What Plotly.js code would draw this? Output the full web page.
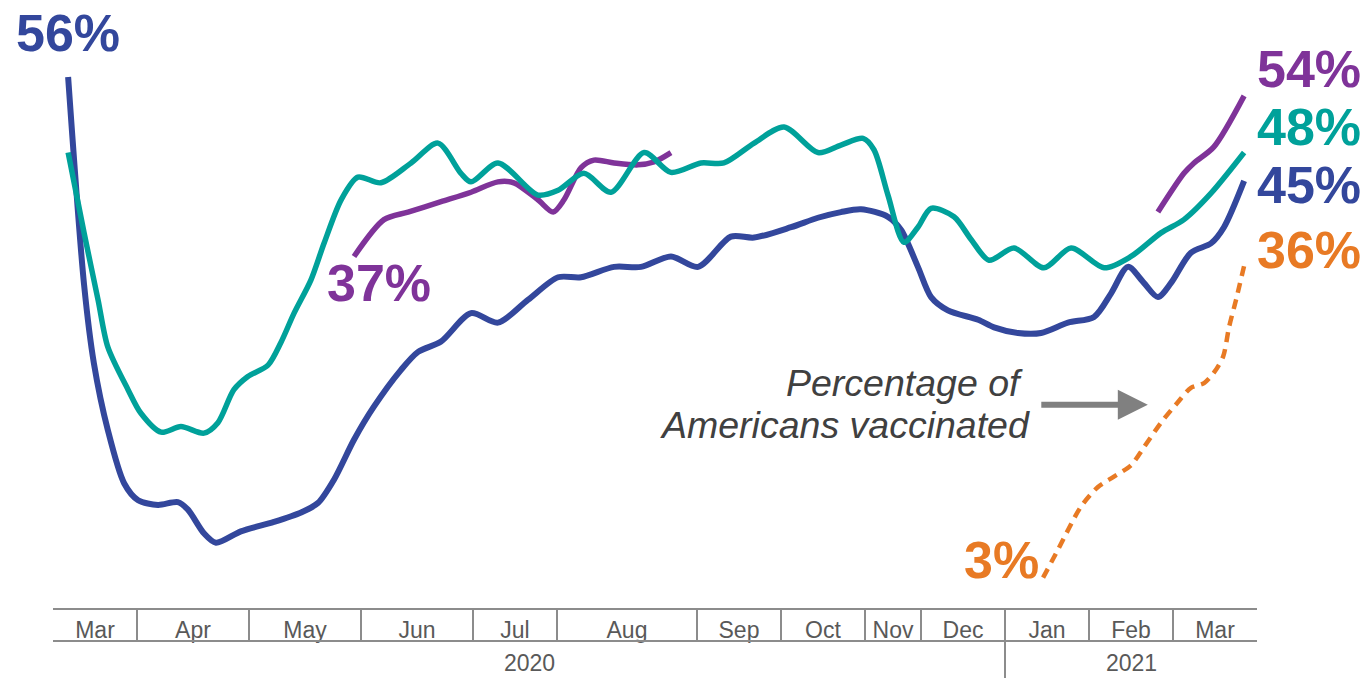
<!DOCTYPE html>
<html>
<head>
<meta charset="utf-8">
<script src="https://cdn.plot.ly/plotly-3.0.1.min.js"></script>
<style>html,body{margin:0;padding:0;background:#fff;}#chart{width:1368px;height:678px;}</style>
</head>
<body>
<div id="chart"></div>
<script>
// ---- Data ----
const months = ['Mar','Apr','May','Jun','Jul','Aug','Sep','Oct','Nov','Dec','Jan','Feb','Mar'];
const monthWaves = [3,4,4,4,3,5,3,3,2,3,3,3,3];
const years = ['2020','2021'];
const yearMonthCounts = [10,3];

const blueX = [0.54,1.11,1.46,1.96,2.54,3.04,3.75,4.46,4.82,5.39,5.82,6.71,7.89,8.86,9.46,10.04,10.75,11.46,12.43,13.04,13.86,14.93,15.89,16.96,18.04,18.86,20.04,21.0,22.07,23.04,24.21,25.04,26.36,27.32,28.14,28.86,29.82,30.29,30.89,31.36,31.96,33.04,33.61,34.46,35.29,36.25,37.18,37.79,38.39,38.96,39.46,39.93,40.64,41.36,41.82,42.54];
const blueY = [56,34,25.7,18.6,13.0,11.2,10.7,11.0,10.2,7.7,6.7,7.9,8.9,9.9,10.9,13.4,17.6,21.1,25.0,26.9,28.0,31.0,30.0,32.4,34.8,34.8,35.9,35.9,37.0,35.9,39.1,39.0,40.1,41.1,41.7,42.0,41.2,39.8,35.9,32.7,31.3,30.3,29.5,28.9,28.9,30.0,30.6,33.1,35.9,34.2,32.7,34.2,37.4,38.4,40.1,45];

const tealX = [0.54,1.11,1.61,1.96,2.68,3.14,3.86,4.57,5.39,5.89,6.46,6.96,7.68,8.14,8.61,9.21,9.68,10.29,10.89,11.71,12.79,13.75,14.57,14.93,15.89,17.32,18.04,18.96,19.93,21.11,22.07,23.14,23.96,25.04,26.11,27.32,28.14,28.93,29.32,29.82,30.39,30.89,31.36,32.18,32.79,33.43,34.32,35.39,36.36,37.54,38.5,39.57,40.39,41.36,42.54];
const tealY = [48.0,39.5,32.4,27.4,22.9,20.4,18.4,19.0,18.3,19.4,22.9,24.3,25.5,27.9,31.0,34.5,38.4,43.0,45.4,44.8,46.9,49.0,45.8,44.9,46.9,43.5,44.0,45.8,43.8,48.0,45.9,46.9,46.9,49.0,50.7,48.0,48.8,49.5,48.3,43.5,38.5,40.1,42.1,41.2,38.8,36.6,37.9,35.8,37.9,35.8,37.0,39.5,40.9,43.7,48];

const purpleX = [10.75,11.82,12.68,13.86,14.93,15.89,16.46,17.32,17.86,18.25,18.86,19.32,20.04,20.89,21.46,22.07,null,39.46,40.39,40.75,41.46,42.54];
const purpleY = [37,40.9,41.7,42.8,43.8,44.9,44.8,43.0,41.7,43.0,46.4,47.2,46.9,46.7,47.0,48.0,null,41.7,45.8,46.9,48.6,54];

const orangeX = [35.36,35.89,36.71,37.32,37.89,38.5,38.96,39.57,40.18,40.64,41.11,41.46,41.79,42.0,42.25,42.54];
const orangeY = [3,5.95,10.5,12.6,13.7,14.9,16.8,19.4,21.6,23.1,23.6,24.7,26.4,29.5,32.4,36];

// ---- Styles ----
const C_BLUE = '#33479c', C_TEAL = '#00a19a', C_PURPLE = '#7f3399', C_ORANGE = '#e87a24';
const C_AX = '#8c8c8c', C_TXT = '#595959';
const FONT = 'Liberation Sans, Arial, sans-serif';

// derived axis positions
const bounds = [0];
monthWaves.forEach(n => bounds.push(bounds[bounds.length-1] + n));
const total = bounds[bounds.length-1];
const centers = months.map((m,i) => (bounds[i] + bounds[i+1]) / 2);
const inner = bounds.slice(1, -1);
const yStartIdx = [0, yearMonthCounts[0], yearMonthCounts[0] + yearMonthCounts[1]];
const yearCenters = years.map((y,i) => (bounds[yStartIdx[i]] + bounds[yStartIdx[i+1]]) / 2);
const yearSep = bounds[yStartIdx[1]];

const lineTrace = (x, y, color, width, dash) => ({
  x, y, type: 'scatter', mode: 'lines', connectgaps: false, hoverinfo: 'skip',
  line: {color, width, shape: 'spline', smoothing: 0.8, dash: dash || 'solid'}
});

const data = [
  lineTrace(blueX, blueY, C_BLUE, 6),
  lineTrace(purpleX, purpleY, C_PURPLE, 5.5),
  lineTrace(tealX, tealY, C_TEAL, 5.5),
  lineTrace(orangeX, orangeY, C_ORANGE, 4.5, '10px,7px'),
  {x: [null], y: [null], xaxis: 'x2', yaxis: 'y', type: 'scatter', mode: 'lines', showlegend: false, hoverinfo: 'skip'},
  {x: [null], y: [null], xaxis: 'x3', yaxis: 'y', type: 'scatter', mode: 'lines', showlegend: false, hoverinfo: 'skip'}
];

const big = (text, x, y, color, xanchor, xshift, yshift) => ({
  text, x, y, xref: 'x', yref: 'y', showarrow: false, xanchor, yanchor: 'middle',
  xshift, yshift, font: {family: FONT, size: 52, color, weight: 'bold'}
});
const pct = v => v + '%';
const lastOf = a => a[a.length-1];

const annotations = [
  big(pct(blueY[0]), blueX[0], blueY[0], C_BLUE, 'center', 0, 44),
  big(pct(purpleY[0]), purpleX[0], purpleY[0], C_PURPLE, 'center', 25, -27),
  big(pct(orangeY[0]), orangeX[0], orangeY[0], C_ORANGE, 'center', -42, 18),
  big(pct(lastOf(purpleY)), lastOf(purpleX), lastOf(purpleY), C_PURPLE, 'left', 11, 27),
  big(pct(lastOf(tealY)), lastOf(tealX), lastOf(tealY), C_TEAL, 'left', 11, 26),
  big(pct(lastOf(blueY)), lastOf(blueX), lastOf(blueY), C_BLUE, 'left', 11, -4),
  big(pct(lastOf(orangeY)), lastOf(orangeX), lastOf(orangeY), C_ORANGE, 'left', 11, 16),
  {x: 39.1, y: 21.3, xref: 'x', yref: 'y', ax: -108, ay: 0, text: '', showarrow: true,
   arrowhead: 2, arrowsize: 1, arrowwidth: 6, arrowcolor: '#808080', standoff: 0},
  {x: 34.96, y: 23.6, xref: 'x', yref: 'y', showarrow: false, xanchor: 'right', yanchor: 'middle',
   text: '<i>Percentage of&nbsp;</i>', font: {family: FONT, size: 37.5, color: '#404040'}},
  {x: 34.96, y: 19.2, xref: 'x', yref: 'y', showarrow: false, xanchor: 'right', yanchor: 'middle',
   text: '<i>Americans vaccinated</i>', font: {family: FONT, size: 37.5, color: '#404040'}}
];
years.forEach((yr, i) => annotations.push({
  text: yr, x: yearCenters[i], xref: 'x', y: -55/608, yref: 'paper', showarrow: false,
  xanchor: 'center', yanchor: 'middle', font: {family: FONT, size: 23, color: C_TXT}
}));

const layout = {
  width: 1368, height: 678,
  margin: {l: 53, r: 111, t: 0, b: 70},
  paper_bgcolor: '#fff', plot_bgcolor: '#fff',
  showlegend: false,
  xaxis: {range: [0, total], fixedrange: true, showgrid: false, zeroline: false,
    showline: true, linecolor: C_AX, linewidth: 2,
    tickmode: 'array', tickvals: centers, ticktext: months, ticks: '',
    tickfont: {family: FONT, size: 23, color: C_TXT}},
  xaxis2: {overlaying: 'x', anchor: 'y', side: 'bottom', range: [0, total], fixedrange: true,
    showgrid: false, zeroline: false, showline: false,
    tickmode: 'array', tickvals: inner, ticks: 'outside', ticklen: 32, tickwidth: 2,
    tickcolor: C_AX, showticklabels: false},
  xaxis3: {overlaying: 'x', anchor: 'y', side: 'bottom', range: [0, total], fixedrange: true,
    showgrid: false, zeroline: false, showline: false,
    tickmode: 'array', tickvals: [yearSep], ticks: 'outside', ticklen: 70, tickwidth: 2,
    tickcolor: C_AX, showticklabels: false},
  yaxis: {range: [-0.21, 64.15], visible: false, fixedrange: true},
  shapes: [{type: 'line', xref: 'x', yref: 'paper', x0: 0, x1: total, y0: -33/608, y1: -33/608,
    line: {color: C_AX, width: 2}}],
  annotations
};

Plotly.newPlot('chart', data, layout, {staticPlot: true, displayModeBar: false});
</script>
</body>
</html>
